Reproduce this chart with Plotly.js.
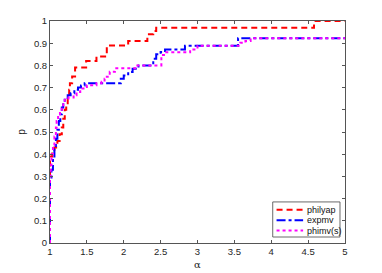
<!DOCTYPE html>
<html>
<head>
<meta charset="utf-8">
<script src="https://cdn.plot.ly/plotly-3.0.1.min.js"></script>
<style>html,body{margin:0;padding:0;background:#fff;}#chart{width:382px;height:273px;}</style>
</head>
<body>
<div id="chart"></div>
<script>
// performance profile data (alpha, p)
const philyapX = [1, 1.0, 1.03, 1.06, 1.10, 1.13, 1.16, 1.18, 1.20, 1.22, 1.24, 1.26, 1.27, 1.30, 1.34, 1.49, 1.63, 1.77, 2.06, 2.32, 2.40, 2.44, 4.58, 5];
const philyapY = [0.30, 0.39, 0.41, 0.43, 0.46, 0.49, 0.52, 0.56, 0.60, 0.63, 0.66, 0.69, 0.72, 0.75, 0.79, 0.82, 0.84, 0.89, 0.91, 0.94, 0.955, 0.97, 1.0, 1.0];

const expmvX = [1, 1.0, 1.02, 1.04, 1.06, 1.08, 1.10, 1.12, 1.14, 1.16, 1.18, 1.20, 1.24, 1.28, 1.33, 1.38, 1.42, 1.47, 1.96, 2.00, 2.06, 2.12, 2.20, 2.40, 2.44, 2.50, 2.56, 2.83, 3.55, 5];
const expmvY = [0, 0.29, 0.33, 0.38, 0.43, 0.47, 0.51, 0.55, 0.58, 0.61, 0.63, 0.645, 0.665, 0.675, 0.69, 0.70, 0.71, 0.72, 0.74, 0.755, 0.77, 0.785, 0.80, 0.83, 0.85, 0.86, 0.872, 0.889, 0.922, 0.922];

const phimvX = [1, 1.0, 1.01, 1.02, 1.04, 1.06, 1.08, 1.09, 1.11, 1.135, 1.16, 1.18, 1.20, 1.25, 1.32, 1.36, 1.41, 1.50, 1.63, 1.70, 1.74, 1.77, 1.81, 1.88, 2.17, 2.51, 2.56, 2.90, 3.00, 3.58, 3.65, 3.72, 5];
const phimvY = [0, 0.30, 0.35, 0.40, 0.44, 0.48, 0.52, 0.55, 0.58, 0.60, 0.62, 0.635, 0.645, 0.655, 0.666, 0.68, 0.696, 0.711, 0.72, 0.726, 0.74, 0.749, 0.771, 0.787, 0.80, 0.847, 0.859, 0.872, 0.889, 0.902, 0.91, 0.922, 0.922];

const seriesNames = ['philyap', 'expmv', 'phimv(s)'];
const seriesColors = ['#ff0000', '#0000ff', '#ff00ff'];
const seriesDash = ['6px,4px', 'dashdot', 'dot'];
const xTicks = [1, 1.5, 2, 2.5, 3, 3.5, 4, 4.5, 5];
const yTicks = [0, 0.1, 0.2, 0.3, 0.4, 0.5, 0.6, 0.7, 0.8, 0.9, 1];

const seriesX = [philyapX, expmvX, phimvX];
const seriesY = [philyapY, expmvY, phimvY];

const traces = seriesNames.map((n, i) => ({
  x: seriesX[i], y: seriesY[i], name: n, mode: 'lines', showlegend: false,
  line: {shape: 'hv', color: seriesColors[i], width: 2, dash: seriesDash[i]}
}));

// compact MATLAB-style legend box (bottom right, inside axes)
const font = 'Liberation Sans, Arial, sans-serif';
const legBox = {x0: 0.755, x1: 0.983, y0: 0.027, y1: 0.185};
const legRows = [0.150, 0.103, 0.056];
const shapes = [{type: 'rect', xref: 'paper', yref: 'paper',
  x0: legBox.x0, x1: legBox.x1, y0: legBox.y0, y1: legBox.y1,
  fillcolor: '#fff', line: {color: '#444', width: 0.8}, layer: 'above'}];
const annotations = [];
seriesNames.forEach((n, i) => {
  shapes.push({type: 'line', xref: 'paper', yref: 'paper', layer: 'above',
    x0: 0.768, x1: 0.858, y0: legRows[i], y1: legRows[i],
    line: {color: seriesColors[i], width: 2, dash: seriesDash[i]}});
  annotations.push({xref: 'paper', yref: 'paper', x: 0.866, y: legRows[i],
    xanchor: 'left', yanchor: 'middle', showarrow: false, text: n,
    font: {family: font, size: 9, color: '#111'}});
});

const axisCommon = {
  showgrid: false, zeroline: false, showline: true, mirror: 'ticks',
  linecolor: '#555', linewidth: 1, ticks: 'inside', ticklen: 3, tickcolor: '#555',
  tickfont: {family: font, size: 9.5, color: '#262626'}
};

const layout = {
  width: 382, height: 273,
  margin: {l: 50, r: 37, t: 21, b: 30},
  paper_bgcolor: '#fff', plot_bgcolor: '#fff',
  showlegend: false,
  shapes: shapes, annotations: annotations,
  xaxis: Object.assign({}, axisCommon, {
    range: [1, 5], tickvals: xTicks, ticktext: xTicks.map(String),
    title: {text: 'α', standoff: 4, font: {family: 'DejaVu Serif, serif', size: 10, color: '#262626'}}
  }),
  yaxis: Object.assign({}, axisCommon, {
    range: [0, 1], tickvals: yTicks, ticktext: yTicks.map(String),
    title: {text: 'p', standoff: 6, font: {family: font, size: 10, color: '#262626'}}
  })
};

Plotly.newPlot('chart', traces, layout, {staticPlot: true, displayModeBar: false});
</script>
</body>
</html>
